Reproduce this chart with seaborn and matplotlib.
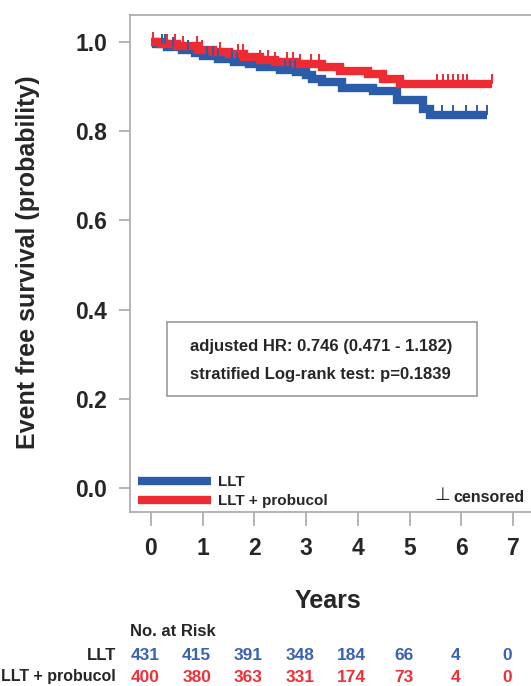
import numpy as np
import pandas as pd
import matplotlib
matplotlib.use("Agg")
import matplotlib.pyplot as plt
import matplotlib.patches as mpatches
from matplotlib.path import Path
from matplotlib.lines import Line2D
from matplotlib.transforms import blended_transform_factory, ScaledTranslation
import seaborn as sns

# ---------------- data ----------------
groups = ["LLT", "LLT + probucol"]
colors = {"LLT": "#2B5CA9", "LLT + probucol": "#EE2A33"}
text_colors = {"LLT": "#3A62B3", "LLT + probucol": "#EE3038"}

llt_time = [0.0, 0.10, 0.30, 0.60, 0.85, 1.00, 1.30, 1.60, 1.90, 2.10, 2.50, 2.80,
            3.00, 3.12, 3.30, 3.70, 4.30, 4.75, 5.26, 5.40, 6.50]
llt_surv = [1.000, 0.995, 0.988, 0.983, 0.975, 0.968, 0.962, 0.956, 0.950, 0.944,
            0.938, 0.932, 0.925, 0.917, 0.910, 0.897, 0.890, 0.870, 0.850, 0.836, 0.836]

pro_time = [0.0, 0.20, 0.50, 0.90, 1.20, 1.50, 1.80, 2.10, 2.40, 2.80, 3.30, 3.66,
            4.20, 4.49, 4.82, 6.60]
pro_surv = [1.000, 0.995, 0.990, 0.983, 0.977, 0.972, 0.966, 0.960, 0.955, 0.950,
            0.945, 0.935, 0.928, 0.918, 0.906, 0.906]

llt_censor = [0.21, 0.27, 0.43, 0.72, 1.08, 1.20, 1.30, 1.57, 1.66, 2.59, 2.69, 2.79,
              5.45, 5.62, 5.84, 6.10, 6.30, 6.50]
pro_censor = [0.04, 0.31, 0.46, 0.62, 0.89, 0.99, 1.33, 1.68, 1.78, 2.10, 2.26, 2.40,
              2.63, 2.75, 2.88, 3.10, 3.25, 5.53, 5.65, 5.74, 5.84, 5.94, 6.03, 6.11, 6.60]

risk_times = [0, 1, 2, 3, 4, 5, 6, 7]
risk_llt = [431, 415, 391, 348, 184, 66, 4, 0]
risk_pro = [400, 380, 363, 331, 174, 73, 4, 0]

x_ticks = [0, 1, 2, 3, 4, 5, 6, 7]
y_ticks = [0.0, 0.2, 0.4, 0.6, 0.8, 1.0]
y_ticklabels = ["0.0", "0.2", "0.4", "0.6", "0.8", "1.0"]

annot_lines = ["adjusted HR: 0.746 (0.471 - 1.182)",
               "stratified Log-rank test: p=0.1839"]

# ---------------- style ----------------
sns.set_style("white")
plt.rcParams["font.family"] = ["Liberation Sans", "DejaVu Sans"]
plt.rcParams["font.weight"] = "bold"

grey = "#A8A8A8"

fig = plt.figure(figsize=(5.31, 6.86), dpi=100)
ax = fig.add_axes([130 / 531, 1 - 512 / 686, 401 / 531, 497 / 686])

df = pd.concat([
    pd.DataFrame({"time": llt_time, "surv": llt_surv, "group": "LLT"}),
    pd.DataFrame({"time": pro_time, "surv": pro_surv, "group": "LLT + probucol"}),
], ignore_index=True)

sns.lineplot(data=df, x="time", y="surv", hue="group", hue_order=groups,
             palette=colors, estimator=None, sort=False, drawstyle="steps-post",
             linewidth=6, legend=False, ax=ax,
             solid_joinstyle="miter", solid_capstyle="butt")

# censor marks (upward ticks from the curve)
tick_marker = Path([(0, 0), (0, 1)], [Path.MOVETO, Path.LINETO])


def step_value(times, survs, t):
    idx = np.searchsorted(np.asarray(times), np.asarray(t), side="right") - 1
    return np.asarray(survs)[idx]


for g, tt, ss, cc in [("LLT", llt_time, llt_surv, llt_censor),
                      ("LLT + probucol", pro_time, pro_surv, pro_censor)]:
    ax.plot(cc, step_value(tt, ss, cc), linestyle="none", marker=tick_marker,
            markersize=14, markeredgewidth=1.4, color=colors[g])

ax.set_xlim(-0.406, 7.35)
ax.set_ylim(-0.054, 1.0605)
ax.set_xticks(x_ticks)
ax.set_xticklabels([str(v) for v in x_ticks])
ax.set_yticks(y_ticks)
ax.set_yticklabels(y_ticklabels)
ax.tick_params(axis="y", length=8, width=1.2, color=grey, pad=8.5,
               labelsize=16.5, left=True)
ax.tick_params(axis="x", length=10, width=1.2, color=grey, pad=8,
               labelsize=16.5, bottom=True)
for lab in ax.get_xticklabels() + ax.get_yticklabels():
    lab.set_fontweight("bold")

for side in ["left", "top", "bottom"]:
    ax.spines[side].set_color(grey)
    ax.spines[side].set_linewidth(1.2)
ax.spines["right"].set_visible(False)

ax.set_xlabel("")
ax.set_ylabel("")
fig.text(28 / 531, 1 - 262 / 686, "Event free survival (probability)",
         rotation=90, ha="center", va="center", fontsize=18, fontweight="bold")
fig.text(328 / 531, 1 - 601 / 686, "Years", ha="center", va="center",
         fontsize=18, fontweight="bold")

# annotation box
ax.add_patch(mpatches.Rectangle((0.0923, 0.2334), 0.865 - 0.0923, 0.3823 - 0.2334,
                                transform=ax.transAxes, facecolor="white",
                                edgecolor="#999999", linewidth=1.2, zorder=5))
ax.text(0.1496, 0.332, annot_lines[0], transform=ax.transAxes, ha="left",
        va="center", fontsize=12, fontweight="bold", zorder=6)
ax.text(0.1496, 0.2757, annot_lines[1], transform=ax.transAxes, ha="left",
        va="center", fontsize=12, fontweight="bold", zorder=6)

# legend
handles = [Line2D([0], [0], color=colors[g], linewidth=6, solid_capstyle="butt")
           for g in groups]
leg = ax.legend(handles, groups, loc="lower left", bbox_to_anchor=(0.02, 0.008),
                frameon=False, borderpad=0, borderaxespad=0, handlelength=4.8,
                handletextpad=0.45, labelspacing=0.3,
                prop={"size": 11, "weight": "bold"})

ax.text(0.985, 0.030, "censored", transform=ax.transAxes, ha="right", va="center",
        fontsize=11.5, fontweight="bold")
ax.text(0.778, 0.034, "\u22A5", transform=ax.transAxes, ha="center", va="center",
        fontsize=13, fontweight="normal", family=["DejaVu Sans"])

# risk table
trans = blended_transform_factory(ax.transData, fig.transFigure) + \
    ScaledTranslation(-6 / 100, 0, fig.dpi_scale_trans)
fig.text(130 / 531, 1 - 632 / 686, "No. at Risk", ha="left", va="center",
         fontsize=12, fontweight="bold")
fig.text(116 / 531, 1 - 655 / 686, "LLT", ha="right", va="center",
         fontsize=12, fontweight="bold")
fig.text(116 / 531, 1 - 677 / 686, "LLT + probucol", ha="right", va="center",
         fontsize=11.5, fontweight="bold")
for t, a, b in zip(risk_times, risk_llt, risk_pro):
    ax.text(t, 1 - 655 / 686, str(a), transform=trans, ha="center", va="center",
            fontsize=12.5, fontweight="bold", color=text_colors["LLT"], clip_on=False)
    ax.text(t, 1 - 677 / 686, str(b), transform=trans, ha="center", va="center",
            fontsize=12.5, fontweight="bold", color=text_colors["LLT + probucol"],
            clip_on=False)

fig.savefig("out.png", dpi=100, facecolor="white")
